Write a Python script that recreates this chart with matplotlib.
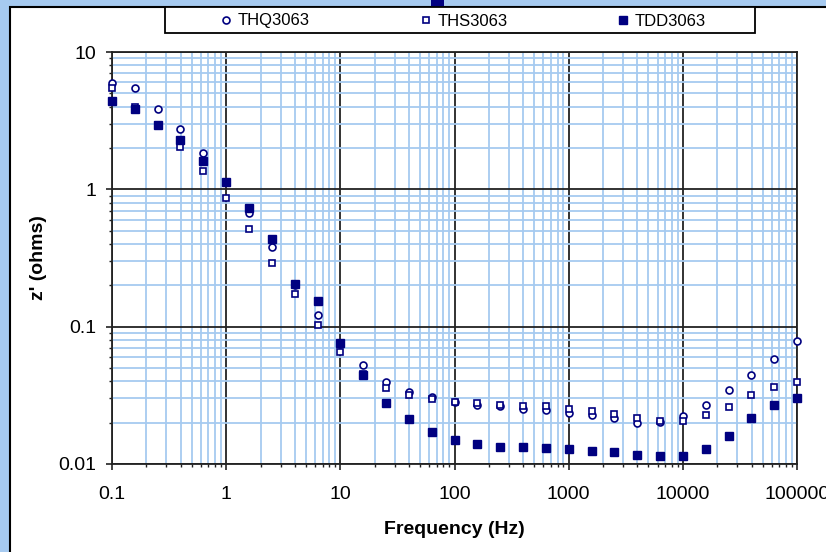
import numpy as np
import matplotlib.pyplot as plt
from matplotlib.patches import Rectangle
from matplotlib.ticker import LogLocator, FixedLocator, FixedFormatter, NullFormatter

# data
freq = [0.1, 0.158, 0.251, 0.398, 0.631, 1, 1.58, 2.51, 3.98, 6.31, 10, 15.8, 25.1, 39.8, 63.1,
        100, 158, 251, 398, 631, 1000, 1585, 2512, 3981, 6310, 10000, 15850, 25120, 39810, 63100, 100000]
thq = [5.9, 5.5, 3.85, 2.74, 1.83, 1.13, 0.676, 0.382, 0.202, 0.121, 0.075, 0.0522, 0.0393, 0.0334,
       0.0305, 0.0285, 0.0268, 0.0265, 0.0252, 0.0247, 0.0236, 0.0227, 0.0216, 0.0200, 0.0201,
       0.0222, 0.0270, 0.0347, 0.0444, 0.0584, 0.0785]
ths = [5.5, 4.0, 2.95, 2.02, 1.35, 0.86, 0.51, 0.292, 0.172, 0.1025, 0.0653, 0.045, 0.0356, 0.0318,
       0.0297, 0.0284, 0.0277, 0.0271, 0.0265, 0.0266, 0.0252, 0.0243, 0.0232, 0.0217, 0.0207,
       0.0206, 0.0226, 0.0258, 0.0316, 0.0363, 0.0397]
tdd = [4.4, 3.85, 2.94, 2.29, 1.61, 1.14, 0.735, 0.434, 0.206, 0.153, 0.0763, 0.0441, 0.0276, 0.0211,
       0.0172, 0.0149, 0.0140, 0.0133, 0.0133, 0.0131, 0.0128, 0.0125, 0.0122, 0.0117, 0.0115,
       0.0115, 0.0128, 0.0161, 0.0215, 0.0270, 0.0302]
x_ticks = [0.1, 1, 10, 100, 1000, 10000, 100000]
x_labels = ['0.1', '1', '10', '100', '1000', '10000', '100000']
y_ticks = [0.01, 0.1, 1, 10]
y_labels = ['0.01', '0.1', '1', '10']

navy = '#000080'
light = '#A6CAF0'
plt.rcParams['font.family'] = ['Liberation Sans', 'DejaVu Sans']

W, H = 826, 552
fig = plt.figure(figsize=(W / 100, H / 100), dpi=100)
fig.patch.set_facecolor(light)

# white chart panel with black border (runs off right/bottom)
fig.patches.append(Rectangle((10 / W, -0.05), 1.1, 1 - 7 / H + 0.05, transform=fig.transFigure,
                             facecolor='white', edgecolor='black', lw=1.5, zorder=-10))
# bit of a marker sticking in at the top
fig.patches.append(Rectangle((431 / W, 1 - 7 / H), 13 / W, 7 / H, transform=fig.transFigure,
                             facecolor=navy, edgecolor='none', zorder=-5))
# legend frame
fig.patches.append(Rectangle((165 / W, 1 - 33 / H), 590 / W, 26 / H, transform=fig.transFigure,
                             facecolor='white', edgecolor='black', lw=1.3, zorder=-5))

ax = fig.add_axes([112 / W, 1 - 464 / H, (797 - 112) / W, (464 - 52) / H])
ax.patch.set_alpha(0)
ax.set_xscale('log')
ax.set_yscale('log')
ax.set_xlim(0.1, 100000)
ax.set_ylim(0.01, 10)

ax.plot(freq, thq, 'o', ms=5, mfc='white', mec=navy, mew=1.2, clip_on=False, zorder=3, label='THQ3063')
ax.plot(freq, ths, 's', ms=5, mfc='white', mec=navy, mew=1.2, clip_on=False, zorder=4, label='THS3063')
ax.plot(freq, tdd, 's', ms=6, mfc=navy, mec=navy, mew=1, clip_on=False, zorder=5, label='TDD3063')

ax.xaxis.set_major_locator(FixedLocator(x_ticks))
ax.xaxis.set_major_formatter(FixedFormatter(x_labels))
ax.yaxis.set_major_locator(FixedLocator(y_ticks))
ax.yaxis.set_major_formatter(FixedFormatter(y_labels))
ax.xaxis.set_minor_locator(LogLocator(base=10, subs=np.arange(2, 10), numticks=20))
ax.yaxis.set_minor_locator(LogLocator(base=10, subs=np.arange(2, 10), numticks=20))
ax.xaxis.set_minor_formatter(NullFormatter())
ax.yaxis.set_minor_formatter(NullFormatter())

ax.grid(which='minor', color=light, lw=1.3, zorder=0)
ax.grid(which='major', color='#222222', lw=1.3, zorder=1)
ax.set_axisbelow(True)
for s in ax.spines.values():
    s.set_color('#222222')
    s.set_linewidth(1.3)

ax.tick_params(which='major', direction='out', length=4.5, width=1.2, labelsize=14, color='#222222')
ax.tick_params(axis='x', which='major', pad=11)
ax.tick_params(axis='y', which='major', pad=7)
ax.tick_params(which='minor', direction='out', length=2.3, width=1, color='#222222')

ax.set_xlabel('Frequency (Hz)', fontsize=14, fontweight='bold', labelpad=13)
ax.set_ylabel("z' (ohms)", fontsize=14, fontweight='bold', labelpad=8)

h, l = ax.get_legend_handles_labels()
leg = fig.legend(h, l, ncol=3, loc='center', bbox_to_anchor=(462 / W, 1 - 21 / H),
                 fontsize=12, frameon=False, borderaxespad=0, columnspacing=6.45,
                 handletextpad=0.2, handlelength=1.0, borderpad=0)

fig.savefig('out.png', dpi=100, facecolor=fig.get_facecolor())
